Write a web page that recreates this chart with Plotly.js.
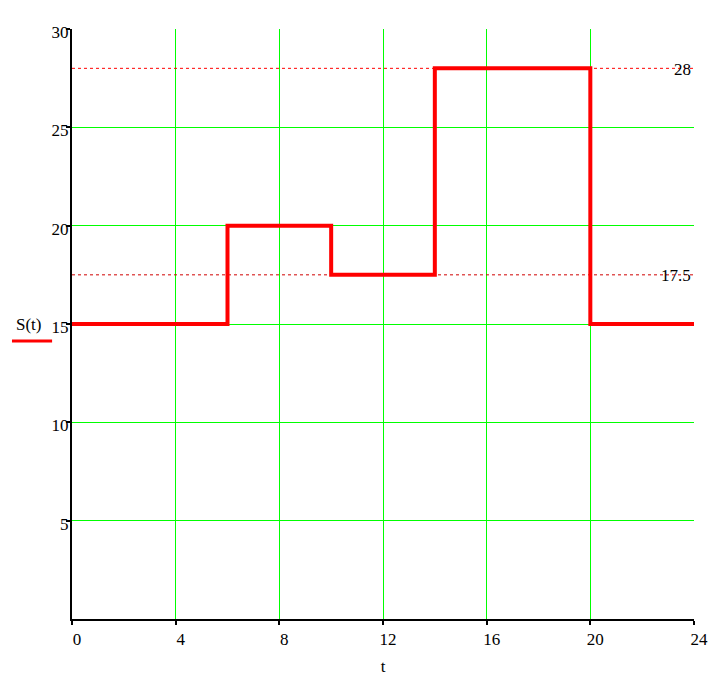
<!DOCTYPE html>
<html>
<head>
<meta charset="utf-8">
<script src="https://cdn.plot.ly/plotly-3.0.1.min.js"></script>
<style>html,body{margin:0;padding:0;background:#fff;}#chart{width:725px;height:685px;}</style>
</head>
<body>
<div id="chart"></div>
<script>
// Step function S(t)
var tBreaks = [0, 6, 10, 14, 20, 24];
var sValues = [15, 20, 17.5, 28, 15, 15];
// Marker (reference) lines
var markerValues = [28, 17.5];
var markerLabels = ["28", "17.5"];
var markerColors = ["#ff0000", "#d00000"];
// Ticks
var xTicks = [0, 4, 8, 12, 16, 20, 24];
var yTicks = [5, 10, 15, 20, 25, 30];
var xRange = [0, 24];
var yRange = [0, 30];

var font = "'Liberation Serif', 'Times New Roman', serif";
var fs = 17;

var traces = [];
markerValues.forEach(function (v, i) {
  traces.push({
    x: xRange, y: [v, v], mode: "lines", type: "scatter",
    line: {color: markerColors[i], width: 1, dash: "3px,3px"},
    hoverinfo: "skip", showlegend: false
  });
});
traces.push({
  x: tBreaks, y: sValues, mode: "lines", type: "scatter",
  line: {color: "#ff0000", width: 4, shape: "hv"},
  showlegend: false
});

var annotations = markerValues.map(function (v, i) {
  return {x: xRange[1], y: v, xref: "x", yref: "y", text: markerLabels[i],
    showarrow: false, xanchor: "right", yanchor: "middle", xshift: -1, yshift: -1,
    font: {family: font, size: fs, color: "#000"}};
});
annotations.push({x: -0.069, y: 0.5, xref: "paper", yref: "paper", text: "S(t)",
  showarrow: false, xanchor: "center", yanchor: "middle",
  font: {family: font, size: fs, color: "#000"}});

var layout = {
  width: 725, height: 685,
  margin: {l: 72, r: 31, t: 29, b: 66},
  paper_bgcolor: "#fff", plot_bgcolor: "#fff",
  font: {family: font, size: fs, color: "#000"},
  xaxis: {
    range: xRange, tickvals: xTicks, ticktext: xTicks.map(String),
    showgrid: true, gridcolor: "#00ff00", gridwidth: 1,
    zeroline: false, showline: true, linecolor: "#000", linewidth: 2,
    ticks: "outside", ticklen: 4, tickwidth: 2, tickcolor: "#000",
    ticklabelshift: 5, ticklabelstandoff: 0,
    tickfont: {family: font, size: fs, color: "#000"},
    title: {text: "t", font: {family: font, size: fs, color: "#000"}, standoff: 12}
  },
  yaxis: {
    range: yRange, tickvals: yTicks, ticktext: yTicks.map(String),
    showgrid: true, gridcolor: "#00ff00", gridwidth: 1,
    zeroline: false, showline: true, linecolor: "#000", linewidth: 2,
    ticks: "outside", ticklen: 4, tickwidth: 2, tickcolor: "#000",
    ticklabelshift: 3, ticklabelstandoff: -6,
    tickfont: {family: font, size: fs, color: "#000"}
  },
  annotations: annotations,
  shapes: [{type: "line", xref: "paper", yref: "paper",
    x0: -0.0965, x1: -0.032, y0: 0.471, y1: 0.471,
    line: {color: "#ff0000", width: 3}}],
  showlegend: false
};

Plotly.newPlot("chart", traces, layout, {displayModeBar: false, staticPlot: true});
</script>
</body>
</html>
